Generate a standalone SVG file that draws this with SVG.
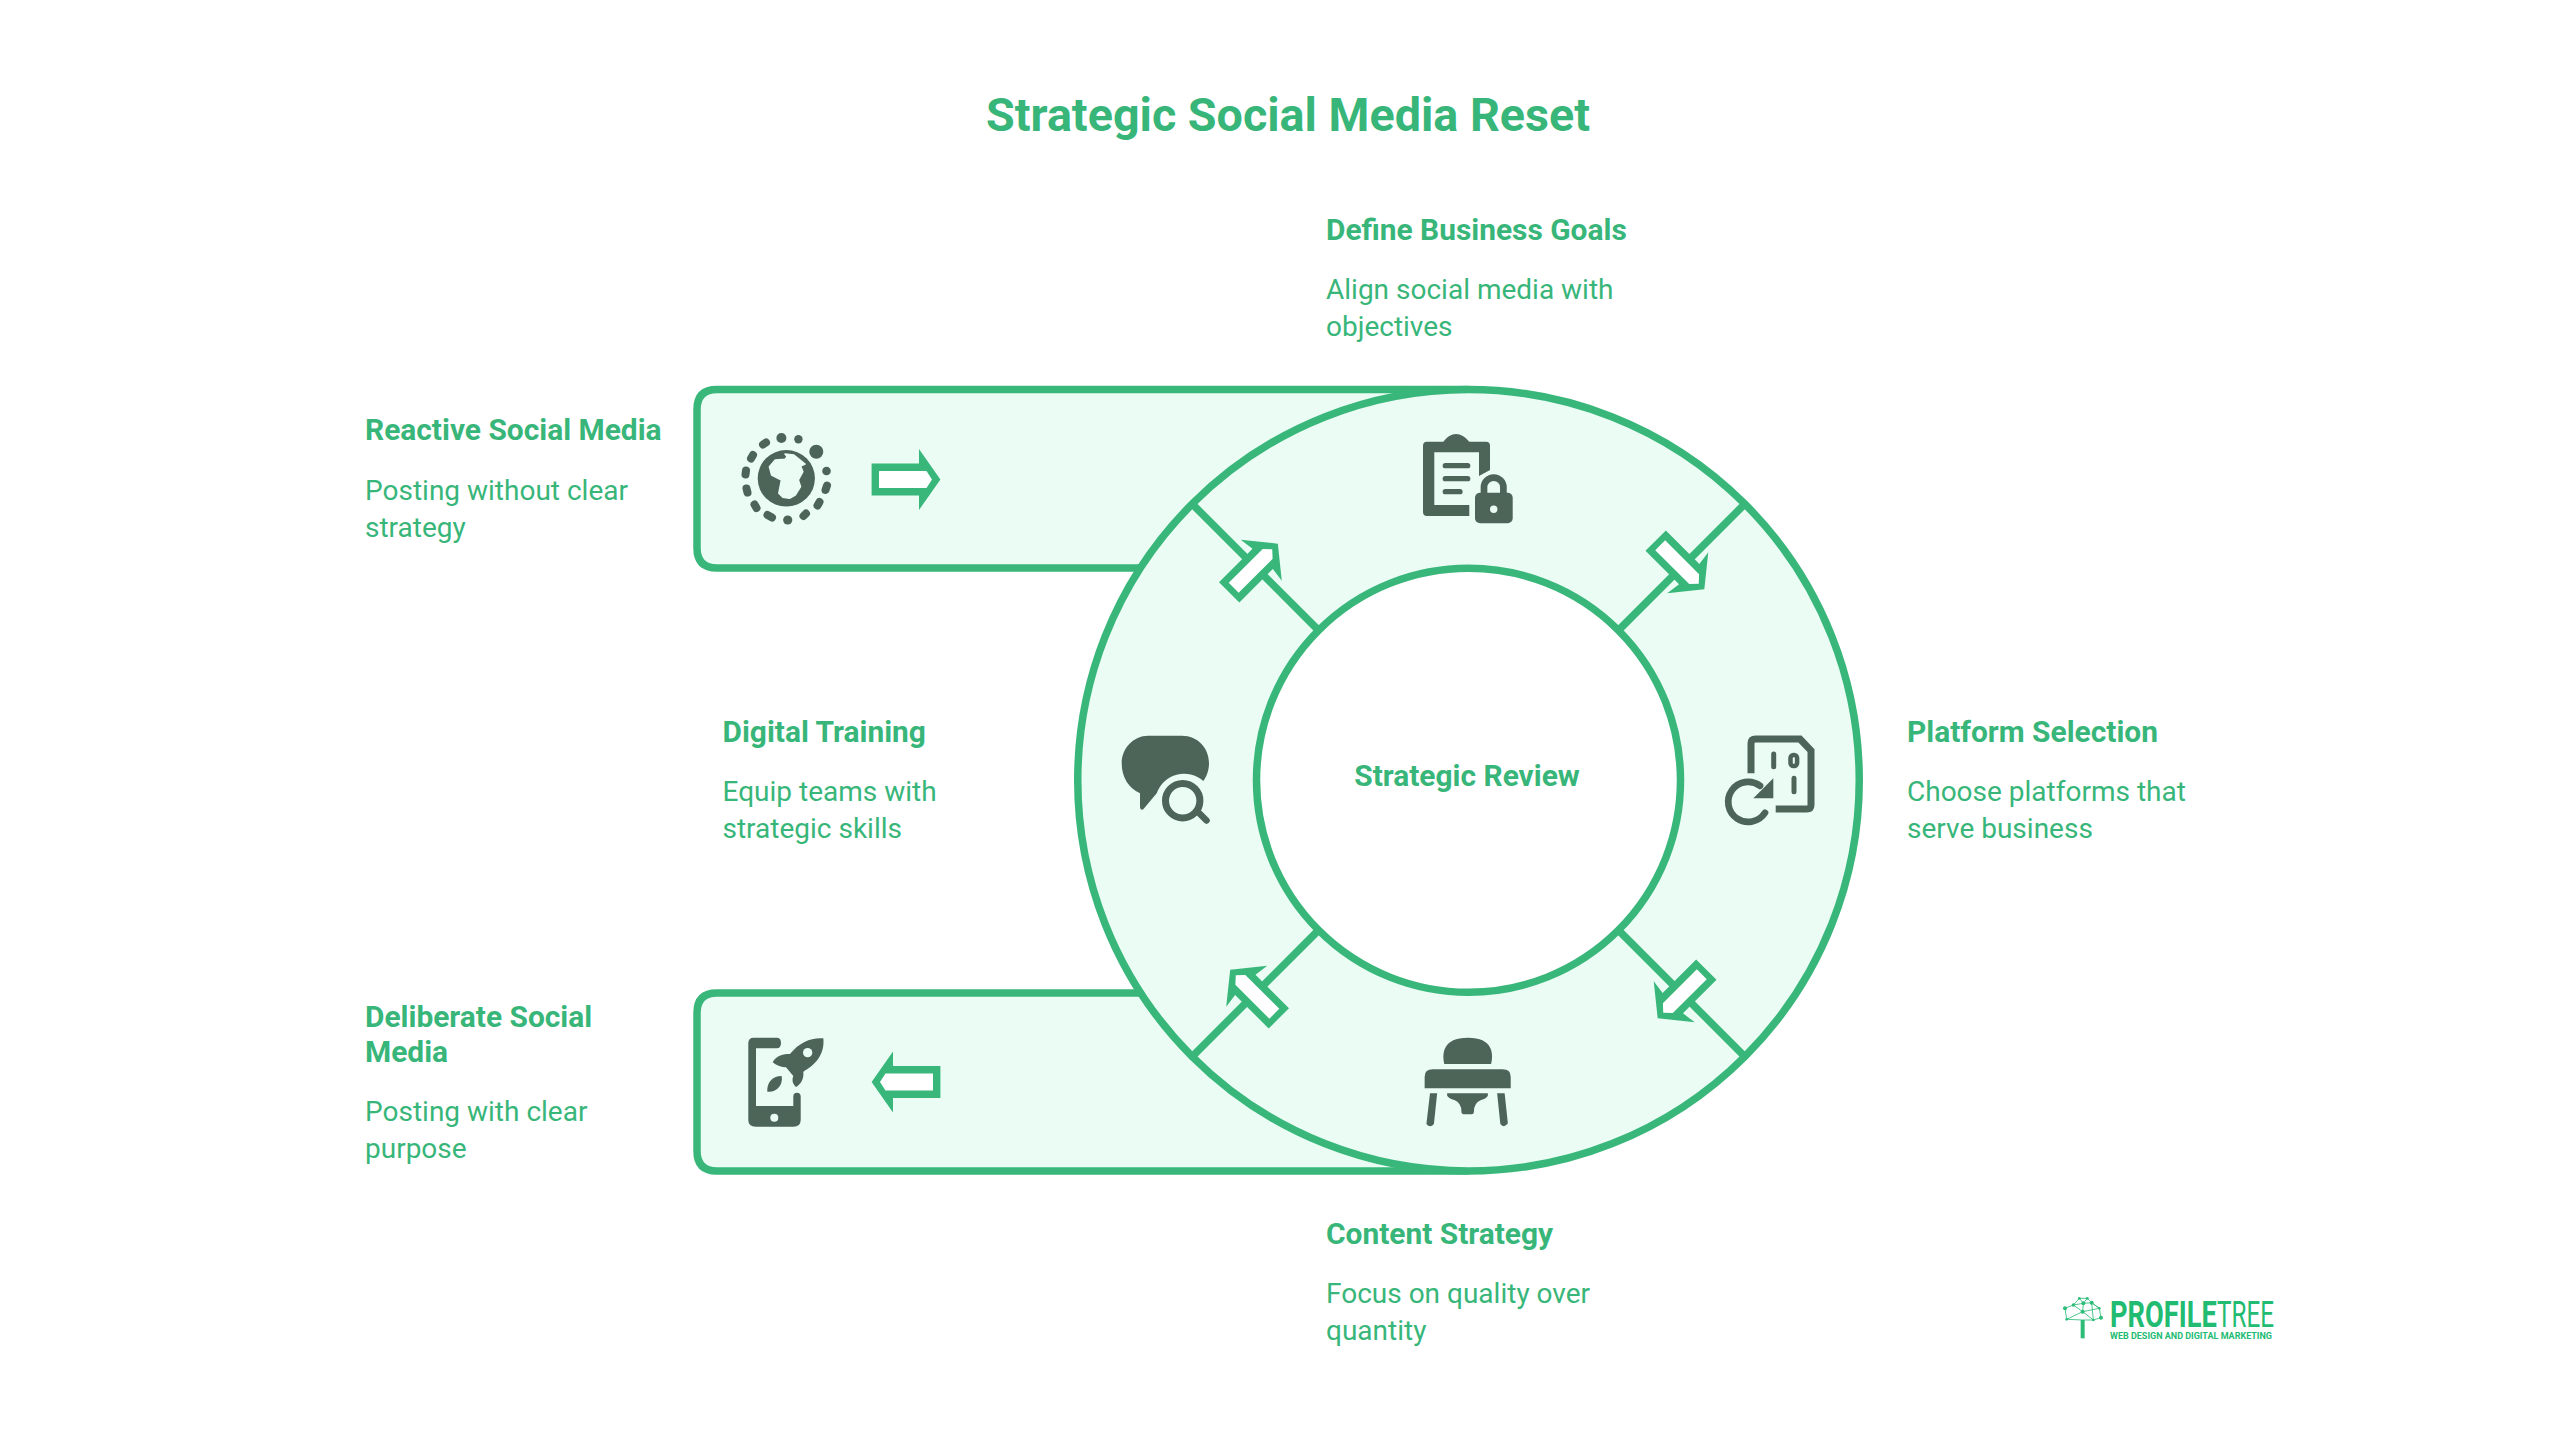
<svg xmlns="http://www.w3.org/2000/svg" xmlns:xlink="http://www.w3.org/1999/xlink" width="2560" height="1440" viewBox="0 0 2560 1440">
<style>
text{font-family:Roboto,"Liberation Sans",sans-serif;fill:#38b67a}
.t{font-size:46.7px;font-weight:700;text-anchor:middle}
.h{font-size:29.9px;font-weight:700}
.b{font-size:28px;font-weight:400}
.i{fill:#4d6458}
.l{fill:#eafcf4}
.s{fill:none;stroke:#39b77a;stroke-width:7.5}
.f{fill:#eafcf4}
</style>
<defs>
<g id="arrow">
<polygon points="-34.4,-16 13,-16 13,-30.5 34.4,0 13,30.5 13,16 -34.4,16" fill="#39b77a"/>
<polygon points="-27,-8.5 20.5,-8.5 26,0 20.5,8.5 -27,8.5" fill="#fff"/>
</g>
<g id="arrow-d">
<polygon points="-34.4,-14.4 13,-14.4 11,-29 34.4,0 11,29 13,14.4 -34.4,14.4" fill="#39b77a"/>
<polygon points="-28,-7 20,-7 26.5,0 20,7 -28,7" fill="#fff"/>
</g>
</defs>
<rect width="2560" height="1440" fill="#fff"/>
<text class="t" x="1288" y="131">Strategic Social Media Reset</text>
<g id="band">
<rect class="f" x="697" y="389.5" width="771.5" height="178.5" rx="20"/>
<rect class="f" x="697" y="993" width="771.5" height="178" rx="20"/>
<path class="s" d="M1468.5 389.5H717Q697 389.5 697 409.5V548Q697 568 717 568H1140"/>
<path class="s" d="M1468.5 1171H717Q697 1171 697 1151V1013Q697 993 717 993H1140"/>
<circle class="f" cx="1468.5" cy="780.25" r="390.75"/>
<circle class="s" cx="1468.5" cy="780.25" r="390.75"/>
<circle cx="1468.5" cy="780.25" r="212" fill="#fff" stroke="#39b77a" stroke-width="7.5"/>
</g>
<g id="connectors">
<path class="s" d="M1318.5 630.25L1192.2 503.95M1618.5 630.25L1744.8 503.95M1618.5 930.25L1744.8 1056.55M1318.5 930.25L1192.2 1056.55"/>
<use xlink:href="#arrow" href="#arrow" transform="translate(906 479.5)"/>
<use xlink:href="#arrow" href="#arrow" transform="translate(906 1082) rotate(180)"/>
<use xlink:href="#arrow-d" href="#arrow-d" transform="translate(1253.5 568) rotate(-45)"/>
<use xlink:href="#arrow-d" href="#arrow-d" transform="translate(1680 565) rotate(45)"/>
<use xlink:href="#arrow-d" href="#arrow-d" transform="translate(1682 994) rotate(135)"/>
<use xlink:href="#arrow-d" href="#arrow-d" transform="translate(1254.5 994) rotate(-135)"/>
</g>
<g id="reactive-social-media">
<text class="h" x="365" y="440">Reactive Social Media</text>
<text class="b" x="365" y="499.5">Posting without clear</text>
<text class="b" x="365" y="536.5">strategy</text>
<g class="i">
<ellipse cx="786.3" cy="478.3" rx="28.6" ry="28.3"/>
<circle cx="781.4" cy="438" r="5"/><circle cx="798.4" cy="439.3" r="4.2"/><circle cx="816.3" cy="451.7" r="7"/>
<circle cx="826.5" cy="471" r="4.3"/><circle cx="787.7" cy="520" r="4.6"/>
<g fill="none" stroke="#4d6458" stroke-width="8" stroke-linecap="round">
<path d="M827 485.5L825.5 490M819.5 502L817.5 505.5M806 513.5L803.5 516M772 517.5L767.5 515M754.5 504.5L756.5 508M746.5 488.5L747.5 492.5M746 470.5L745.5 474.5M753 455L751 458.5M766 442.5L763 444.5"/>
</g>
<polygon class="l" stroke="#eafcf4" stroke-width="1.5" stroke-linejoin="round" points="785,454 793.9,455 805.1,464 800.6,466 802.9,471.7 798.4,480 800.6,486.7 795.3,495 789.5,498.3 782.8,497.3 778.8,493.3 781.4,480 771.6,475 769.4,466.7 775.2,460 785,459.3 787.2,456.7"/>
</g>
</g>
<g id="deliberate-social-media">
<text class="h" x="365" y="1026.5">Deliberate Social</text>
<text class="h" x="365" y="1062">Media</text>
<text class="b" x="365" y="1120.5">Posting with clear</text>
<text class="b" x="365" y="1157.5">purpose</text>
<g class="i">
<path d="M753.5 1037.7H776.7Q781 1037.7 781 1043Q781 1048.3 776.7 1048.3H756V1106H793.3V1096.7Q793.3 1092.7 797 1092.7Q800.7 1092.7 800.7 1096.7V1120Q800.7 1126.7 793.3 1126.7H755.7Q748.3 1126.7 748.3 1120V1043.3Q748.3 1037.7 753.5 1037.7Z"/>
<circle class="l" cx="774.3" cy="1117.7" r="4"/>
<g transform="translate(680 980) scale(.33333)">
<path d="M430 175C395 172 360 185 330 222C310 222 290 225 278 247C290 258 305 262 318 262L340 288C335 300 338 312 348 321C365 310 372 295 370 275C405 255 435 225 430 175Z"/>
<circle class="l" cx="383" cy="218" r="14"/>
<path d="M262 335C260 310 275 288 305 288C310 315 290 338 262 335Z"/>
</g>
</g>
</g>
<g id="define-business-goals">
<text class="h" x="1326" y="240">Define Business Goals</text>
<text class="b" x="1326" y="298.5">Align social media with</text>
<text class="b" x="1326" y="335.5">objectives</text>
<g class="i">
<path d="M1427 441.7H1443.3Q1449 434 1456 434Q1463 434 1469.3 441.7H1486Q1490 441.7 1490 445.7V470L1479 476V452.3H1434.3V505H1469.3V516H1427Q1423 516 1423 512V445.7Q1423 441.7 1427 441.7Z"/>
<path d="M1445.3 465.7H1467.7M1445.3 478.7H1467.7M1445.3 491.7H1460" fill="none" stroke="#4d6458" stroke-width="5.3" stroke-linecap="round"/>
<rect x="1475" y="492.7" width="37.7" height="30.6" rx="5"/>
<path d="M1484 495V487.3A9.7 9.7 0 0 1 1503.4 487.3V495" fill="none" stroke="#4d6458" stroke-width="6.7"/>
<circle class="l" cx="1493.7" cy="509.3" r="3.7"/>
</g>
</g>
<g id="platform-selection">
<text class="h" x="1907" y="742">Platform Selection</text>
<text class="b" x="1907" y="801">Choose platforms that</text>
<text class="b" x="1907" y="838">serve business</text>
<g class="i">
<path d="M1751 773.3V743.5Q1751 739 1755.7 739H1800L1811 750.7V805Q1811 809 1806.7 809H1775.7" fill="none" stroke="#4d6458" stroke-width="7"/>
<path d="M1773.7 754V766.7M1794 778.3V791.7" fill="none" stroke="#4d6458" stroke-width="5" stroke-linecap="round"/>
<rect x="1790.5" y="755" width="6.6" height="11" rx="3" fill="none" stroke="#4d6458" stroke-width="4.5"/>
<path d="M1765 812.7A20 20 0 1 1 1760 785.7" fill="none" stroke="#4d6458" stroke-width="6.7" stroke-linecap="round"/>
<polygon points="1773.3,778.3 1773.3,798.3 1753.3,798.3"/>
</g>
</g>
<g id="content-strategy">
<text class="h" x="1326" y="1244">Content Strategy</text>
<text class="b" x="1326" y="1303">Focus on quality over</text>
<text class="b" x="1326" y="1340">quantity</text>
<g class="i" transform="translate(1190 930) scale(.35714 .33333)">
<path d="M712 402C705 370 708 323 778 323C848 323 850 370 843 402Z"/>
<path d="M657 475V440Q657 418 680 418H875Q898 418 898 440V475Z"/>
<path d="M672 490H692L683 582Q672 595 662 582Z"/>
<path d="M860 490H881L890 580Q880 596 869 582Z"/>
<path d="M720 490H834V497Q830 505 815 510Q795 518 795 545Q795 553 785 553H770Q760 553 760 545Q760 518 740 510Q725 505 720 497Z"/>
</g>
</g>
<g id="digital-training">
<text class="h" x="722.5" y="742">Digital Training</text>
<text class="b" x="722.5" y="801">Equip teams with</text>
<text class="b" x="722.5" y="838">strategic skills</text>
<g class="i">
<path d="M1148.3 735.7H1181.7C1198.3 735.7 1209 748.3 1209 763.3C1209 770 1206.7 776.7 1203.3 781A29 29 0 0 0 1156.7 793.3L1143.3 809.3Q1140 811 1140 806V793.3C1128.3 788.3 1121.7 776.7 1121.7 763.3C1121.7 748.3 1133.3 735.7 1148.3 735.7Z"/>
<circle cx="1182.7" cy="800.7" r="17.2" fill="none" stroke="#4d6458" stroke-width="7"/>
<path d="M1197 811L1206.5 820.5" fill="none" stroke="#4d6458" stroke-width="6.5" stroke-linecap="round"/>
</g>
</g>
<g id="strategic-review">
<text class="h" x="1467" y="786" text-anchor="middle">Strategic Review</text>
</g>
<g id="logo">
<g transform="translate(2040 1270) scale(.33333)" stroke="#2dbd78" fill="#2dbd78">
<path d="M128 205V150" stroke-width="12" fill="none"/>
<path d="M75 115L100 105L118 85L142 85L155 98L178 115L183 143L160 150L128 125L130 100L100 105L128 125L80 148L75 115M130 100L155 98L178 115L128 125M128 150L80 148M128 150L160 150M118 85L130 100M142 85L130 100M160 150L155 98" stroke-width="2.5" fill="none"/>
<g stroke="none"><circle cx="75" cy="115" r="6"/><circle cx="118" cy="85" r="4"/><circle cx="142" cy="85" r="4"/><circle cx="155" cy="98" r="6"/><circle cx="178" cy="115" r="4"/><circle cx="183" cy="143" r="6"/><circle cx="80" cy="148" r="4"/><circle cx="100" cy="105" r="5"/><circle cx="130" cy="100" r="6"/><circle cx="128" cy="125" r="6"/><circle cx="160" cy="150" r="4"/></g>
</g>
<text x="2110" y="1326.7" font-size="37.5" font-weight="700" textLength="106.7" lengthAdjust="spacingAndGlyphs" style="fill:#22bb72">PROFILE</text>
<text x="2217" y="1326.7" font-size="37.5" font-weight="400" textLength="57" lengthAdjust="spacingAndGlyphs" style="fill:#22bb72">TREE</text>
<text x="2110" y="1339" font-size="8.6" font-weight="700" textLength="162" lengthAdjust="spacingAndGlyphs" style="fill:#22bb72">WEB DESIGN AND DIGITAL MARKETING</text>
</g>
</svg>
